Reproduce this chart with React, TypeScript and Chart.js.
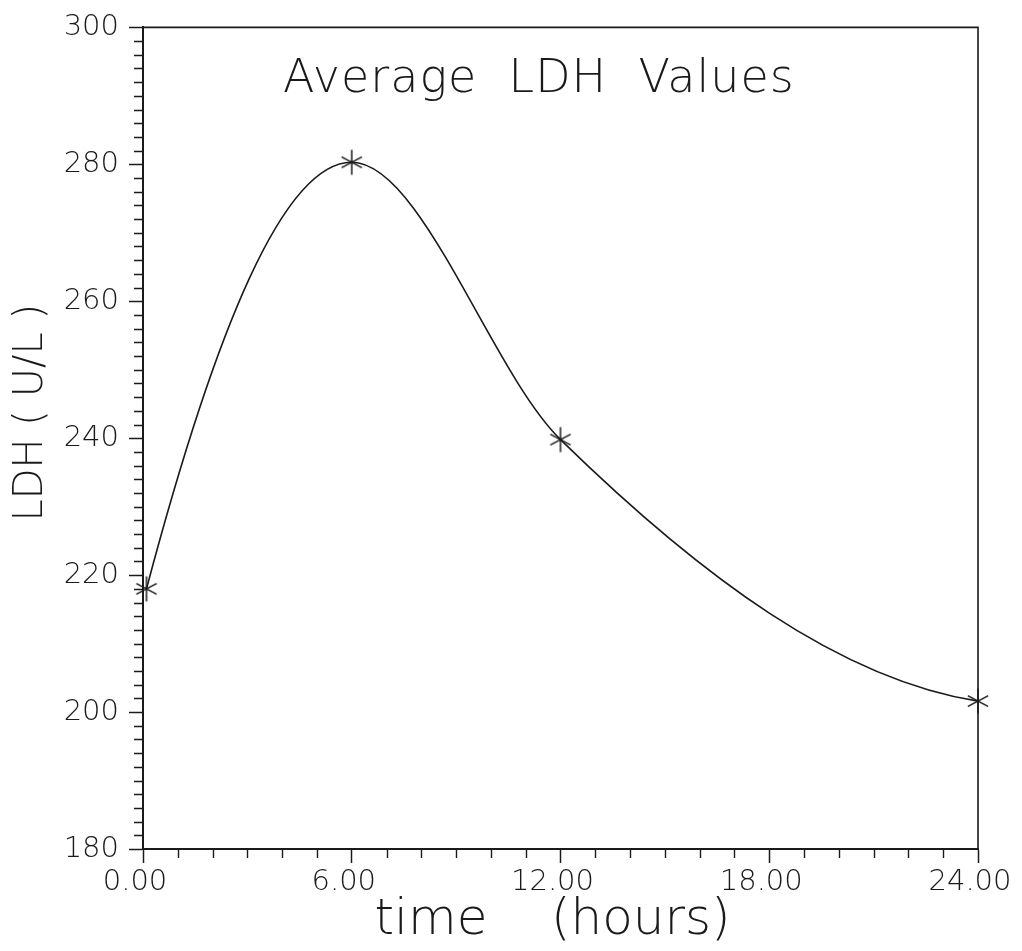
import React, { useEffect, useRef } from 'react';
import { Chart, registerables } from 'chart.js';

Chart.register(...registerables);

// ---- data ----
const timeHours = [0.1, 6.0, 12.0, 24.0];
const ldhValues = [218.0, 280.3, 239.8, 201.6];

// ---- axes ----
const xMin = 0;
const xMax = 24;
const xMajorStep = 6;
const xMinorStep = 1;
const yMin = 180;
const yMax = 300;
const yMajorStep = 20;
const yMinorStep = 2;

// ---- texts ----
const chartTitle = 'Average  LDH  Values';
const xAxisTitle = 'time    (hours) ';
const yAxisTitle = '    LDH ( U/L )';

const FONT = '"DejaVu Sans", "Noto Sans", sans-serif';
const INK = '#1a1a1a';

function makeAsterisk(): HTMLCanvasElement {
  const c = document.createElement('canvas');
  c.width = 28;
  c.height = 28;
  const g = c.getContext('2d')!;
  g.strokeStyle = INK;
  g.lineWidth = 1.5;
  g.translate(14, 14);
  g.beginPath();
  const arms: [number, number][] = [
    [90, 12.5],
    [28, 11.5],
    [152, 11.5],
  ];
  for (const [deg, r] of arms) {
    const a = (deg * Math.PI) / 180;
    g.moveTo(-r * Math.cos(a), -r * Math.sin(a));
    g.lineTo(r * Math.cos(a), r * Math.sin(a));
  }
  g.stroke();
  return c;
}

// Shape-preserving (PCHIP-style) end tangents for the monotone curve.
const pchipEnds = {
  id: 'pchipEnds',
  beforeDatasetDraw(chart: any, args: any) {
    const meta = chart.getDatasetMeta(args.index);
    const line: any = meta.dataset;
    if (!line || typeof line.updateControlPoints !== 'function') return;
    line.updateControlPoints(chart.chartArea, meta.indexAxis);
    const pts: any[] = meta.data;
    const n = pts.length;
    if (n < 3) return;
    const endSlope = (h0: number, h1: number, d0: number, d1: number) => {
      let m = ((2 * h0 + h1) * d0 - h0 * d1) / (h0 + h1);
      if (Math.sign(m) !== Math.sign(d0)) m = 0;
      else if (Math.sign(d0) !== Math.sign(d1) && Math.abs(m) > Math.abs(3 * d0)) m = 3 * d0;
      return m;
    };
    {
      const a = pts[0], b = pts[1], c = pts[2];
      const h0 = b.x - a.x, h1 = c.x - b.x;
      const m = endSlope(h0, h1, (b.y - a.y) / h0, (c.y - b.y) / h1);
      a.cp2x = a.x + h0 / 3;
      a.cp2y = a.y + (m * h0) / 3;
    }
    {
      const a = pts[n - 1], b = pts[n - 2], c = pts[n - 3];
      const h0 = a.x - b.x, h1 = b.x - c.x;
      const m = endSlope(h0, h1, (a.y - b.y) / h0, (b.y - c.y) / h1);
      a.cp1x = a.x - h0 / 3;
      a.cp1y = a.y - (m * h0) / 3;
    }
    line._path = undefined;
  },
};

const frameAndMinor = {
  id: 'frameAndMinor',
  beforeDatasetsDraw(chart: any) {
    const { ctx, chartArea: ca, scales } = chart;
    const x = scales.x;
    const y = scales.y;
    ctx.save();
    ctx.strokeStyle = INK;
    ctx.lineWidth = 1.6;
    ctx.beginPath();
    ctx.moveTo(ca.left, ca.top);
    ctx.lineTo(ca.right, ca.top);
    ctx.lineTo(ca.right, ca.bottom);
    ctx.stroke();

    ctx.lineWidth = 1.4;
    ctx.beginPath();
    for (let v = xMin; v <= xMax; v += xMinorStep) {
      if (v % xMajorStep === 0) continue;
      const px = Math.round(x.getPixelForValue(v)) + 0.5;
      ctx.moveTo(px, ca.bottom);
      ctx.lineTo(px, ca.bottom + 9);
    }
    for (let v = yMin; v <= yMax; v += yMinorStep) {
      if (v % yMajorStep === 0) continue;
      const py = Math.round(y.getPixelForValue(v)) + 0.5;
      ctx.moveTo(ca.left - 9, py);
      ctx.lineTo(ca.left, py);
    }
    ctx.stroke();

    // chart title inside the plot frame
    ctx.fillStyle = INK;
    ctx.font = `200 46px ${FONT}`;
    (ctx as any).letterSpacing = '1px';
    ctx.textAlign = 'left';
    ctx.textBaseline = 'alphabetic';
    ctx.fillText(chartTitle, 283, 92);
    ctx.restore();
  },
};

export default function App() {
  const ref = useRef<HTMLCanvasElement | null>(null);

  useEffect(() => {
    if (!ref.current) return;
    const star = makeAsterisk();
    const tickFont = { family: FONT, size: 29, weight: '200' as any };
    const chart = new Chart(ref.current, {
      type: 'line',
      data: {
        datasets: [
          {
            data: timeHours.map((t, i) => ({ x: t, y: ldhValues[i] })),
            borderColor: INK,
            borderWidth: 1.6,
            cubicInterpolationMode: 'monotone',
            pointStyle: star as any,
            pointRadius: 12,
            fill: false,
            clip: false as any,
          },
        ],
      },
      options: {
        responsive: false,
        animation: false,
        devicePixelRatio: 1,
        layout: { padding: { left: 0, top: 24, right: 44, bottom: 0 } },
        plugins: {
          legend: { display: false },
          tooltip: { enabled: false },
          title: { display: false },
        },
        scales: {
          x: {
            type: 'linear',
            min: xMin,
            max: xMax,
            afterFit: (s: any) => {
              s.height = 102;
            },
            ticks: {
              stepSize: xMajorStep,
              callback: (v: any) => Number(v).toFixed(2),
              font: tickFont,
              color: INK,
              padding: 2,
              labelOffset: -8,
              maxRotation: 0,
              autoSkip: false,
            },
            grid: {
              drawOnChartArea: false,
              drawTicks: true,
              tickLength: 14,
              tickWidth: 1.5,
              tickColor: INK,
            },
            border: { display: true, color: INK, width: 2 },
            title: {
              display: true,
              text: xAxisTitle,
              font: { family: FONT, size: 50, weight: '200' as any },
              color: INK,
              padding: { top: 0, bottom: 0 },
            },
          },
          y: {
            type: 'linear',
            min: yMin,
            max: yMax,
            afterFit: (s: any) => {
              s.width = 143;
            },
            ticks: {
              stepSize: yMajorStep,
              font: tickFont,
              color: INK,
              padding: 10,
            },
            grid: {
              drawOnChartArea: false,
              drawTicks: true,
              tickLength: 14,
              tickWidth: 1.5,
              tickColor: INK,
            },
            border: { display: true, color: INK, width: 2 },
            title: {
              display: true,
              text: yAxisTitle,
              font: { family: FONT, size: 40, weight: '200' as any },
              color: INK,
              padding: { top: 8, bottom: 0 },
            },
          },
        },
      },
      plugins: [pchipEnds, frameAndMinor],
    });
    return () => chart.destroy();
  }, []);

  return (
    <canvas
      ref={ref}
      width={1022}
      height={951}
      style={{ position: 'absolute', left: 0, top: 0, display: 'block', background: '#fff' }}
    />
  );
}
